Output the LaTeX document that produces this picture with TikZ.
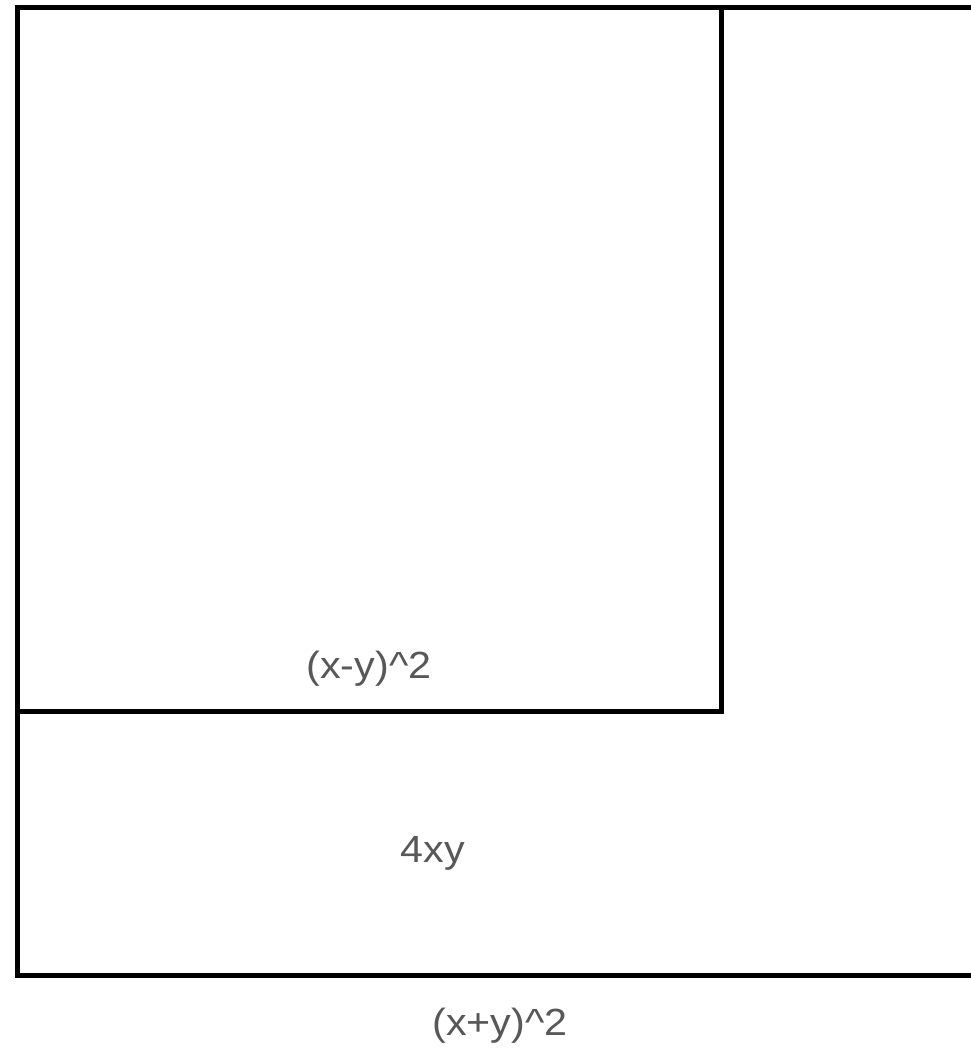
\documentclass[tikz,border=0pt]{standalone}
\usepackage{fontspec}
\setmainfont{Liberation Sans}
\definecolor{labelgray}{RGB}{88,88,88}
\begin{document}
\begin{tikzpicture}[x=1bp,y=-1bp,
  box/.style={draw=black,line width=5bp},
  lbl/.style={text=labelgray,inner sep=0pt,font=\fontsize{38}{42}\selectfont}]
\useasboundingbox (0,0) rectangle (971,1049);
\clip (0,0) rectangle (971,1049);
\fill[white] (0,0) rectangle (971,1049);
\draw[box] (17.5,7) rectangle (985,975);
\draw[box] (17.5,7) rectangle (721.5,711);
\node[lbl] (small) at (369,669) {\scalebox{1.09}[1]{(x-y)\textasciicircum2}};
\node[lbl] (mid) at (433,853) {\scalebox{1.09}[1]{4xy}};
\node[lbl] (big) at (500,1026) {\scalebox{1.09}[1]{(x+y)\textasciicircum2}};
\end{tikzpicture}
\end{document}
